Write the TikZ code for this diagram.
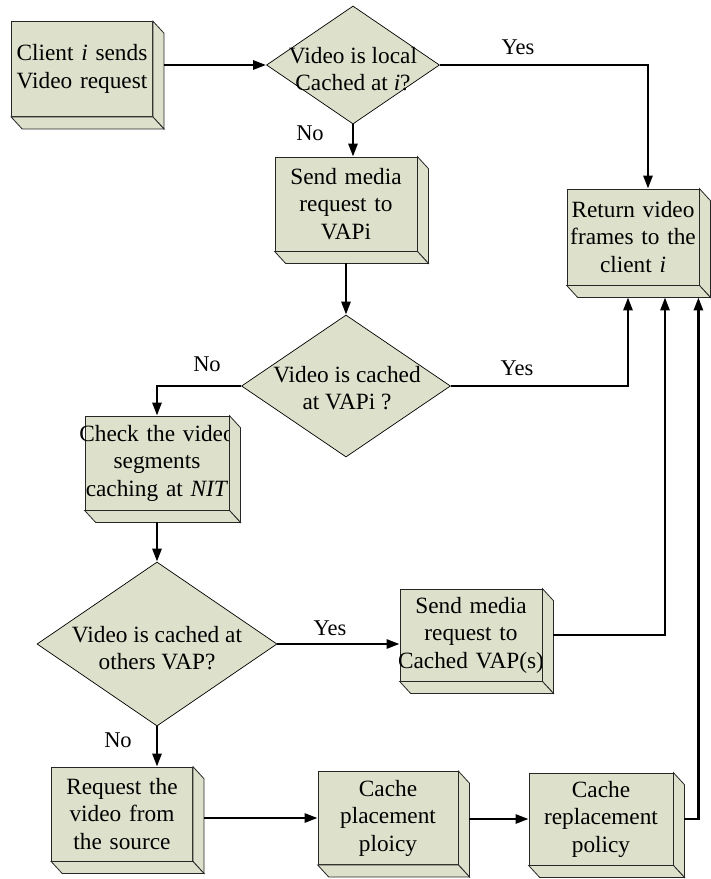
\documentclass[tikz,border=0pt]{standalone}
\usepackage{fontspec}
\setmainfont{Liberation Serif}
\usepackage{tikz}
\usetikzlibrary{shapes.geometric,arrows.meta}
\definecolor{boxfill}{RGB}{221,224,203}

\begin{document}
\begin{tikzpicture}[x=1pt,y=-1pt,
	blk/.style={draw=black!85,line width=0.8pt,fill=boxfill,inner sep=0pt,text width=142pt,minimum height=94pt,align=center,font=\fontsize{23.3}{27.5}\selectfont},
	face/.style={draw=black!85,line width=0.8pt,fill=boxfill},
	dia/.style={diamond,draw,line width=0.7pt,fill=boxfill,inner sep=0pt},
	txt/.style={align=center,font=\fontsize{23.3}{27.5}\selectfont},
	lbl/.style={font=\fontsize{22.5}{26}\selectfont},
	arr/.style={line width=2.6pt,-{Triangle[length=13pt,width=9pt]}}]
\useasboundingbox (0,0) rectangle (711,879);

\node[blk,text width=141pt,minimum height=95pt] (client) at (82,69) {Client \textit{i} sends\\Video request};
\node[blk] (send) at (346,204) {Send media\\request to\\VAPi};
\node[blk,text width=132pt,minimum height=96pt] (ret) at (633,237) {Return video\\frames to the\\client \textit{i}};
\node[blk,text width=144pt] (check) at (157,463) {\makebox[\linewidth]{Check the video}\\segments\\caching at \textit{NIT}};
\node[blk,minimum height=92pt] (sendvap) at (471,635) {Send media\\request to\\\makebox[\linewidth]{Cached VAP(s)}};
\node[blk,text width=141pt] (req) at (122,814) {Request the\\video from\\the source};
\node[blk,text width=140pt,minimum height=93pt] (place) at (388,818) {Cache\\placement\\ploicy};
\node[blk,text width=144pt,minimum height=92pt] (repl) at (601,819) {Cache\\replacement\\policy};

\foreach \b in {client,send,ret,check,sendvap,req,place,repl}{
	\draw[face] (\b.north east)--++(11,12)--([shift={(11,12)}]\b.south east)--(\b.south east)--cycle;
	\draw[face] (\b.south west)--++(11,12)--([shift={(11,12)}]\b.south east)--(\b.south east)--cycle;
}

\node[dia,minimum width=173pt,minimum height=118pt] (d1) at (353,65) {};
\node[dia,minimum width=209pt,minimum height=142pt] (d2) at (346,386) {};
\node[dia,minimum width=240pt,minimum height=164pt] (d3) at (157,644) {};
\node[txt] (d1t) at (353,69) {Video is local\\Cached at \textit{i}?};
\node[txt] (d2t) at (347,388) {Video is cached\\at VAPi ?};
\node[txt] (d3t) at (157,648) {Video is cached at\\others VAP?};

\draw[arr] ([xshift=11pt]client.east |- d1.west)--(d1.west);
\draw[arr] (d1.east)-|([xshift=15pt]ret.north);
\draw[arr] (d1.south)--(d1.south |- send.north);
\draw[arr] ([yshift=-12pt]send.south)--(d2.north);
\draw[arr] (d2.east)-|([xshift=-5pt,yshift=-12pt]ret.south);
\draw[arr] (d2.west)-|(check.north);
\draw[arr] ([yshift=-12pt]check.south)--(d3.north);
\draw[arr] (d3.east)--(d3.east -| sendvap.west);
\draw[arr] ([xshift=11pt]sendvap.east)-|([xshift=32pt,yshift=-12pt]ret.south);
\draw[arr] (d3.south)--(d3.south |- req.north);
\draw[arr] ([xshift=11pt]req.east |- place.west)--(place.west);
\draw[arr] ([xshift=11pt]place.east |- repl.west)--(repl.west);
\draw[arr] ([xshift=11pt]repl.east)-|([xshift=-1pt,yshift=-12pt]ret.south east);

\node[lbl] (yes1) at (518,47) {Yes};
\node[lbl] (no1) at (310,133) {No};
\node[lbl] (no2) at (207,364) {No};
\node[lbl] (yes2) at (517,368) {Yes};
\node[lbl] (yes3) at (330,628) {Yes};
\node[lbl] (no3) at (118,740) {No};

\end{tikzpicture}
\end{document}
